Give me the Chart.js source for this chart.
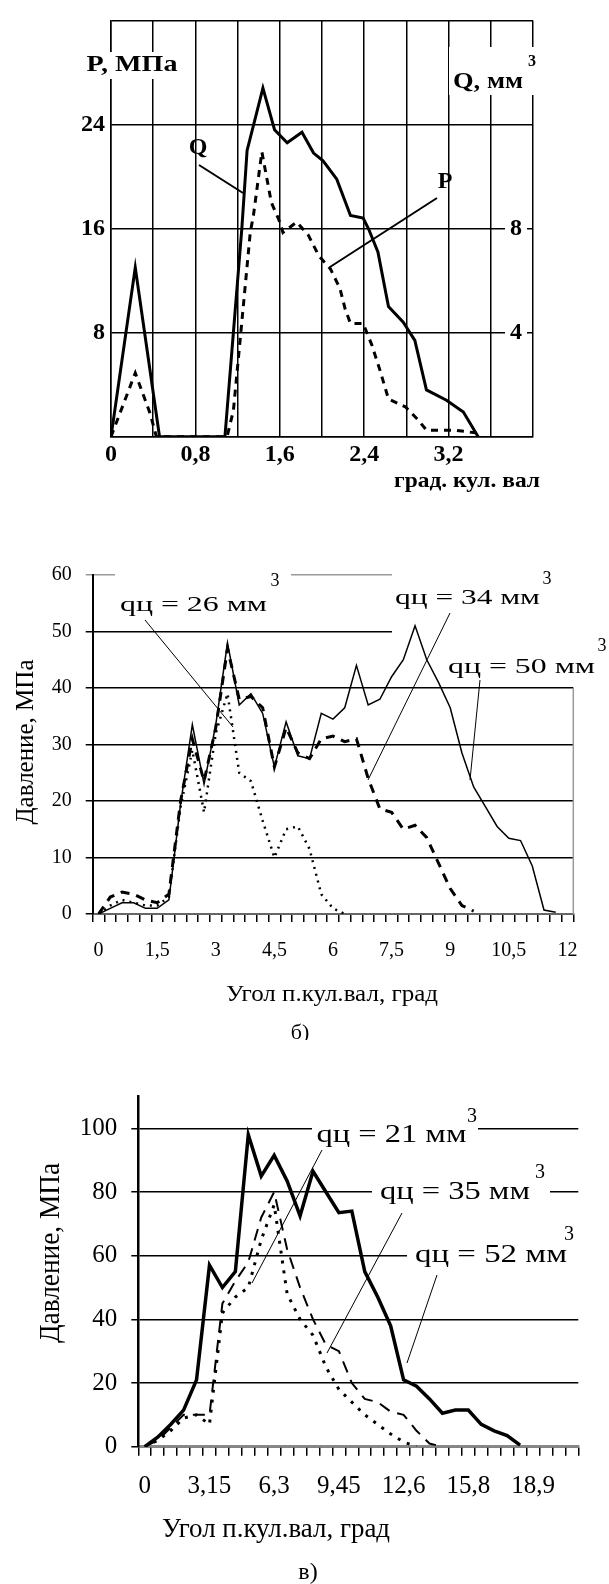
<!DOCTYPE html>
<html>
<head>
<meta charset="utf-8">
<title>Давление впрыска</title>
<script src="https://cdn.jsdelivr.net/npm/chart.js@4.4.1/dist/chart.umd.min.js"></script>
<style>
  body { margin: 0; background: #fff; }
  #wrap { position: relative; width: 609px; height: 1584px; }
  canvas { position: absolute; left: 0; }
</style>
</head>
<body>
<div id="wrap">
  <canvas id="chartA" width="609" height="500" style="top:0"></canvas>
  <canvas id="chartB" width="609" height="540" style="top:500px"></canvas>
  <canvas id="chartC" width="609" height="544" style="top:1040px"></canvas>
</div>
<script>
// ---------- data: chart a) ----------
// Q (solid, right axis, mm3) and P (dashed, left axis, MPa) vs crank angle
var aQx = [0, 0.23, 0.46, 1.08, 1.24, 1.29, 1.44, 1.55, 1.67, 1.81, 1.92, 2.01, 2.14, 2.27, 2.39, 2.44, 2.53, 2.63, 2.77, 2.88, 2.99, 3.18, 3.34, 3.48];
var aQ  = [0, 6.5, 0, 0, 8.0, 11.0, 13.4, 11.8, 11.3, 11.7, 10.9, 10.6, 9.9, 8.5, 8.4, 8.0, 7.1, 5.0, 4.4, 3.7, 1.8, 1.4, 0.95, 0];
var aPx = [0, 0.23, 0.37, 0.43, 1.10, 1.16, 1.22, 1.27, 1.32, 1.35, 1.43, 1.52, 1.59, 1.63, 1.76, 1.87, 1.97, 2.08, 2.17, 2.22, 2.27, 2.39, 2.47, 2.55, 2.63, 2.79, 2.91, 2.99, 3.26, 3.45];
var aP  = [0, 4.9, 1.8, 0, 0, 2.0, 7.1, 11.4, 15.7, 17.0, 21.9, 18.0, 16.7, 15.7, 16.5, 15.5, 13.9, 12.9, 11.4, 9.8, 8.7, 8.7, 7.1, 5.1, 2.9, 2.3, 1.3, 0.5, 0.5, 0.3];
var aQLabels = [4, 8];

// ---------- data: chart б) ----------
var bAngles = ['0','0,3','0,6','0,9','1,2','1,5','1,8','2,1','2,4','2,7','3','3,3','3,6','3,9','4,2','4,5','4,8','5,1','5,4','5,7','6','6,3','6,6','6,9','7,2','7,5','7,8','8,1','8,4','8,7','9','9,3','9,6','9,9','10,2','10,5','10,8','11,1','11,4','11,7','12'];
var b50 = [0,1,2,2,1,1,2.5,19.5,33.5,23,33.5,48,37,39,35.5,26,34,28,27.5,35.5,34.5,36.5,44,37,38,42,45,51,45,41,36.5,28.5,22.5,19,15.5,13.4,13,8.5,0.7,0.3,null];
var b34 = [0,3,3.9,3.5,2.5,2,3.5,20,31,23.5,33,47,38,38.5,36.5,26,33,28.5,27.5,31,31.5,30.5,31,24,18.6,18,15,15.7,13.5,9,4.5,1.5,0.5,null,null,null,null,null,null,null,null];
var b26 = [0,1.5,2.5,2,1.5,1.5,3,19,29,18,32,39,25,23.5,16.5,10,15,15.5,11.5,3.5,1,0,null,null,null,null,null,null,null,null,null,null,null,null,null,null,null,null,null,null,null];

// ---------- data: chart в) ----------
var cAngles = ['0','0,63','1,26','1,89','2,52','3,15','3,78','4,41','5,04','5,67','6,3','6,93','7,56','8,19','8,82','9,45','10,08','10,71','11,34','11,97','12,6','13,23','13,86','14,49','15,12','15,8','16,38','17,01','17,64','18,27','18,9','19,53','20,16','20,79'];
var c52 = [0,3,7,11.5,21,57,50,55,98,85,91.5,83.5,72.5,86.5,80,73.5,74,55,47,38,21,19,15,10.5,11.5,11.5,7,5,3.5,0.5,null,null,null,null];
var c35 = [0,2,6,10,10,10,45,52,58,72,80,62,50,40,32,30,20,15,14,11,10,5,1,0,null,null,null,null,null,null,null,null,null,null];
var c21 = [0,2,5,9,10,7,42,47,50,65,76,48,40,35,25,18,14,10,7,4,1.5,0,null,null,null,null,null,null,null,null,null,null,null,null];

var SERIF = '"Liberation Serif", "Times New Roman", serif';

function pts(xs, ys) {
  return xs.map(function (x, i) { return { x: x, y: ys[i] }; });
}
function comma(v) {
  return String(Math.round(v * 100) / 100).replace('.', ',');
}
// text centred at (cx, cy), optionally stretched to width w and rotated
function txt(ctx, s, cx, cy, font, w, angle) {
  ctx.save();
  ctx.font = font;
  ctx.fillStyle = '#000';
  ctx.textAlign = 'center';
  ctx.textBaseline = 'middle';
  ctx.translate(cx, cy);
  if (angle) ctx.rotate(angle);
  if (w) ctx.scale(w / ctx.measureText(s).width, 1);
  ctx.fillText(s, 0, 0);
  ctx.restore();
}
function seg(ctx, x1, y1, x2, y2, w, color) {
  ctx.save();
  ctx.strokeStyle = color || '#000';
  ctx.lineWidth = w;
  ctx.beginPath(); ctx.moveTo(x1, y1); ctx.lineTo(x2, y2); ctx.stroke();
  ctx.restore();
}
function box(ctx, x, y, w, h) {
  ctx.save(); ctx.fillStyle = '#fff'; ctx.fillRect(x, y, w, h); ctx.restore();
}

// ---------- chart a) ----------
var plugA = {
  id: 'extrasA',
  beforeDatasetsDraw: function (chart) {
    var c = chart.ctx;
    box(c, 84, 52, 96, 27);
    box(c, 449, 47, 92, 48);
  },
  afterDraw: function (chart) {
    var c = chart.ctx, s = chart.scales.y2;
    var bold = 'bold 24px ' + SERIF;
    txt(c, 'P, МПа', 132, 65, bold, 91);
    txt(c, 'Q, мм', 488, 82, bold, 70);
    txt(c, '3', 532, 62, 'bold 16px ' + SERIF);
    // right axis labels (Q) inside the frame
    aQLabels.forEach(function (v) {
      var y = s.getPixelForValue(v);
      box(c, 505, y - 11, 22, 22);
      txt(c, String(v), 516, y, bold);
    });
    txt(c, 'Q', 198, 148, bold);
    seg(c, 199, 165, 243, 193, 2);
    txt(c, 'P', 445, 182, bold);
    seg(c, 437, 198, 330, 267, 2);
    txt(c, 'град. кул. вал', 467, 481, 'bold 22px ' + SERIF, 146);
    txt(c, 'а)', 306, 521, '22px ' + SERIF);
  }
};

new Chart(document.getElementById('chartA'), {
  type: 'line',
  data: {
    datasets: [
      { label: 'Q', data: pts(aQx, aQ), yAxisID: 'y2', borderColor: '#000', borderWidth: 3, pointRadius: 0, tension: 0 },
      { label: 'P', data: pts(aPx, aP), yAxisID: 'y', borderColor: '#000', borderWidth: 3, borderDash: [7, 6], pointRadius: 0, tension: 0 }
    ]
  },
  options: {
    responsive: false, animation: false, devicePixelRatio: 1,
    layout: { padding: { left: 0, right: 76, top: 15, bottom: 0 } },
    plugins: { legend: { display: false }, tooltip: { enabled: false } },
    scales: {
      x: {
        type: 'linear', min: 0, max: 4,
        ticks: {
          stepSize: 0.4, autoSkip: false, maxRotation: 0, padding: 4, color: '#000',
          font: { family: SERIF, size: 24, weight: 'bold' },
          callback: function (v, i) { return (i % 2 === 0 && v < 3.9) ? comma(v) : ''; }
        },
        grid: { color: '#000', lineWidth: 1.5, drawTicks: false },
        border: { color: '#000', width: 1.5 },
        afterFit: function (s) { s.height = 63.3; }
      },
      y: {
        min: 0, max: 32,
        ticks: {
          stepSize: 8, padding: 6, color: '#000',
          font: { family: SERIF, size: 24, weight: 'bold' },
          callback: function (v) { return (v === 0 || v === 32) ? '' : v; }
        },
        grid: { color: '#000', lineWidth: 1.5, drawTicks: false },
        border: { color: '#000', width: 1.5 },
        afterFit: function (s) { s.width = 111; }
      },
      y2: { display: false, min: 0, max: 16 }
    }
  },
  plugins: [plugA]
});

// ---------- chart б) ----------
var plugB = {
  id: 'extrasB',
  beforeDatasetsDraw: function (chart) {
    var c = chart.ctx, a = chart.chartArea, y = chart.scales.y;
    c.save(); c.translate(0, -500);
    box(c, 115, 568, 176, 52);
    box(c, 392, 565, 217, 68);
    box(c, 440, 640, 169, 44);
    c.restore();
    seg(c, a.right, y.getPixelForValue(40), a.right, a.bottom, 1.5, '#999');
  },
  afterDraw: function (chart) {
    var c = chart.ctx;
    var f = '22px ' + SERIF, sup = '18px ' + SERIF;
    c.save(); c.translate(0, -500);
    txt(c, 'qц = 26 мм', 193.5, 605, f, 147);
    txt(c, '3', 275, 581, sup);
    seg(c, 145, 620, 233, 727, 1);
    txt(c, 'qц = 34 мм', 467.5, 598, f, 145);
    txt(c, '3', 547, 579, sup);
    seg(c, 450, 613, 368, 780, 1);
    txt(c, 'qц = 50 мм', 521.5, 667, f, 147);
    txt(c, '3', 602, 646, sup);
    seg(c, 480, 680, 470, 780, 1);
    txt(c, 'Давление, МПа', 26, 742, '25px ' + SERIF, 165, -Math.PI / 2);
    txt(c, 'Угол п.кул.вал, град', 332, 995, '24px ' + SERIF, 212);
    txt(c, 'б)', 300, 1033, '22px ' + SERIF);
    c.restore();
  }
};

new Chart(document.getElementById('chartB'), {
  type: 'line',
  data: {
    labels: bAngles,
    datasets: [
      { label: 'qц = 50', data: b50, borderColor: '#000', borderWidth: 1.5, pointRadius: 0, tension: 0 },
      { label: 'qц = 34', data: b34, borderColor: '#000', borderWidth: 3, borderDash: [9, 7], pointRadius: 0, tension: 0 },
      { label: 'qц = 26', data: b26, borderColor: '#000', borderWidth: 2.5, borderDash: [2, 5], pointRadius: 0, tension: 0 }
    ]
  },
  options: {
    responsive: false, animation: false, devicePixelRatio: 1,
    layout: { padding: { left: 0, right: 35.7, top: 75, bottom: 0 } },
    plugins: { legend: { display: false }, tooltip: { enabled: false } },
    scales: {
      x: {
        offset: true,
        ticks: {
          autoSkip: false, maxRotation: 0, padding: 17, color: '#000',
          font: { family: SERIF, size: 20 },
          callback: function (v, i) { return i % 5 === 0 ? this.getLabelForValue(v) : ''; }
        },
        grid: { offset: true, drawOnChartArea: false, tickLength: 8, color: '#000', lineWidth: 1.5 },
        border: { color: '#666', width: 2 },
        afterFit: function (s) { s.height = 126; }
      },
      y: {
        min: 0, max: 60,
        ticks: { stepSize: 10, padding: 14, color: '#000', font: { family: SERIF, size: 20 } },
        grid: {
          tickLength: 7, lineWidth: 1.5,
          color: function (ctx) { return ctx.tick && ctx.tick.value === 60 ? '#999' : '#000'; }
        },
        border: { color: '#000', width: 2 },
        afterFit: function (s) { s.width = 92.7; }
      }
    }
  },
  plugins: [plugB]
});

// ---------- chart в) ----------
var plugC = {
  id: 'extrasC',
  beforeDatasetsDraw: function (chart) {
    var c = chart.ctx;
    c.save(); c.translate(0, -1040);
    box(c, 312, 1105, 166, 45);
    box(c, 372, 1163, 178, 48);
    box(c, 407, 1226, 202, 44);
    c.restore();
  },
  afterDraw: function (chart) {
    var c = chart.ctx;
    var f = '26px ' + SERIF, sup = '20px ' + SERIF;
    c.save(); c.translate(0, -1040);
    txt(c, 'qц = 21 мм', 391.5, 1135, f, 150);
    txt(c, '3', 472, 1117, sup);
    seg(c, 322, 1150, 252, 1283, 1);
    txt(c, 'qц = 35 мм', 455, 1192, f, 150);
    txt(c, '3', 540, 1173, sup);
    seg(c, 402, 1213, 327, 1353, 1);
    txt(c, 'qц = 52 мм', 491, 1255, f, 152);
    txt(c, '3', 569, 1235, sup);
    seg(c, 437, 1275, 407, 1363, 1);
    txt(c, 'Давление, МПа', 51, 1253, '29px ' + SERIF, 180, -Math.PI / 2);
    txt(c, 'Угол п.кул.вал, град', 276, 1530, '28px ' + SERIF, 228);
    txt(c, 'в)', 308, 1573, '24px ' + SERIF);
    c.restore();
  }
};

new Chart(document.getElementById('chartC'), {
  type: 'line',
  data: {
    labels: cAngles,
    datasets: [
      { label: 'qц = 52', data: c52, borderColor: '#000', borderWidth: 3.5, pointRadius: 0, tension: 0 },
      { label: 'qц = 35', data: c35, borderColor: '#000', borderWidth: 2, borderDash: [12, 8], pointRadius: 0, tension: 0 },
      { label: 'qц = 21', data: c21, borderColor: '#000', borderWidth: 3, borderDash: [3, 7], pointRadius: 0, tension: 0 }
    ]
  },
  options: {
    responsive: false, animation: false, devicePixelRatio: 1,
    layout: { padding: { left: 0, right: 30.7, top: 56.5, bottom: 0 } },
    plugins: { legend: { display: false }, tooltip: { enabled: false } },
    scales: {
      x: {
        offset: true,
        ticks: {
          autoSkip: false, maxRotation: 0, padding: 16, color: '#000',
          font: { family: SERIF, size: 25 },
          callback: function (v, i) { return i % 5 === 0 ? this.getLabelForValue(v) : ''; }
        },
        grid: { offset: true, drawOnChartArea: false, tickLength: 9, color: '#000', lineWidth: 1.5 },
        border: { color: '#888', width: 2.5 },
        afterFit: function (s) { s.height = 137.3; }
      },
      y: {
        min: 0, max: 110,
        ticks: { stepSize: 20, padding: 14, color: '#000', font: { family: SERIF, size: 25 } },
        afterBuildTicks: function (s) { s.ticks = s.ticks.filter(function (t) { return t.value <= 100; }); },
        grid: { tickLength: 7, lineWidth: 1.5, color: '#000' },
        border: { color: '#000', width: 2.5 },
        afterFit: function (s) { s.width = 138.3; }
      }
    }
  },
  plugins: [plugC]
});
</script>
</body>
</html>
